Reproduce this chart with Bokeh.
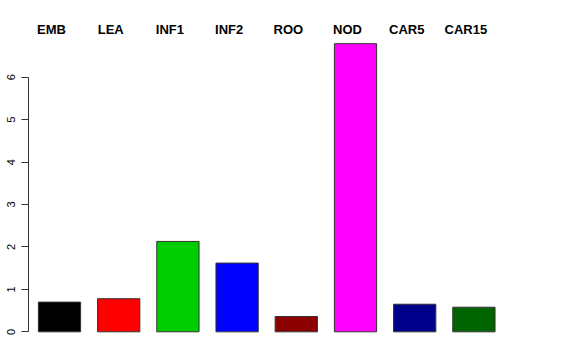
from bokeh.plotting import figure
from bokeh.models import Range1d, LinearAxis, FixedTicker, ColumnDataSource
from bokeh.core.properties import value
from bokeh.embed import file_html
from bokeh.resources import INLINE

categories = ["EMB", "LEA", "INF1", "INF2", "ROO", "NOD", "CAR5", "CAR15"]
values = [0.70, 0.78, 2.13, 1.62, 0.36, 6.79, 0.65, 0.58]
colors = ["#000000", "#FF0000", "#00CD00", "#0000FF", "#8B0000", "#FF00FF", "#00008B", "#006400"]
yticks = [0, 1, 2, 3, 4, 5, 6]

positions = list(range(len(categories)))
src = ColumnDataSource(dict(x=positions, top=values, color=colors, label=categories,
                            ly=[7.12] * len(categories)))

p = figure(width=576, height=360, output_backend="svg", toolbar_location=None,
           x_range=Range1d(-0.5236, 8.733), y_range=Range1d(-0.676, 7.808),
           min_border_left=28, min_border_right=0, min_border_top=0, min_border_bottom=0,
           x_axis_type=None, y_axis_type=None)
p.outline_line_color = None
p.grid.visible = False
p.background_fill_color = "white"
p.border_fill_color = "white"

ax = LinearAxis(ticker=FixedTicker(ticks=yticks), bounds=(0, 6))
ax.major_label_orientation = "vertical"
ax.major_label_text_font = "Liberation Sans"
ax.major_label_text_font_size = "11px"
ax.major_label_text_color = "black"
ax.major_label_standoff = 6
ax.major_tick_out = 7
ax.major_tick_in = 0
ax.minor_tick_out = 0
ax.minor_tick_in = 0
ax.axis_line_color = "#333333"
ax.major_tick_line_color = "#333333"
p.add_layout(ax, "left")

p.vbar(x="x", top="top", bottom=0, width=0.714, fill_color="color", line_color="#333333",
       line_width=1, source=src)

p.text(x="x", y="ly", text="label", source=src, text_align="center", text_baseline="middle",
       x_offset=-8, text_font=value("Liberation Sans"), text_font_style="bold",
       text_font_size="13px", text_color="black")

open("out.html", "w").write(file_html(p, INLINE))
